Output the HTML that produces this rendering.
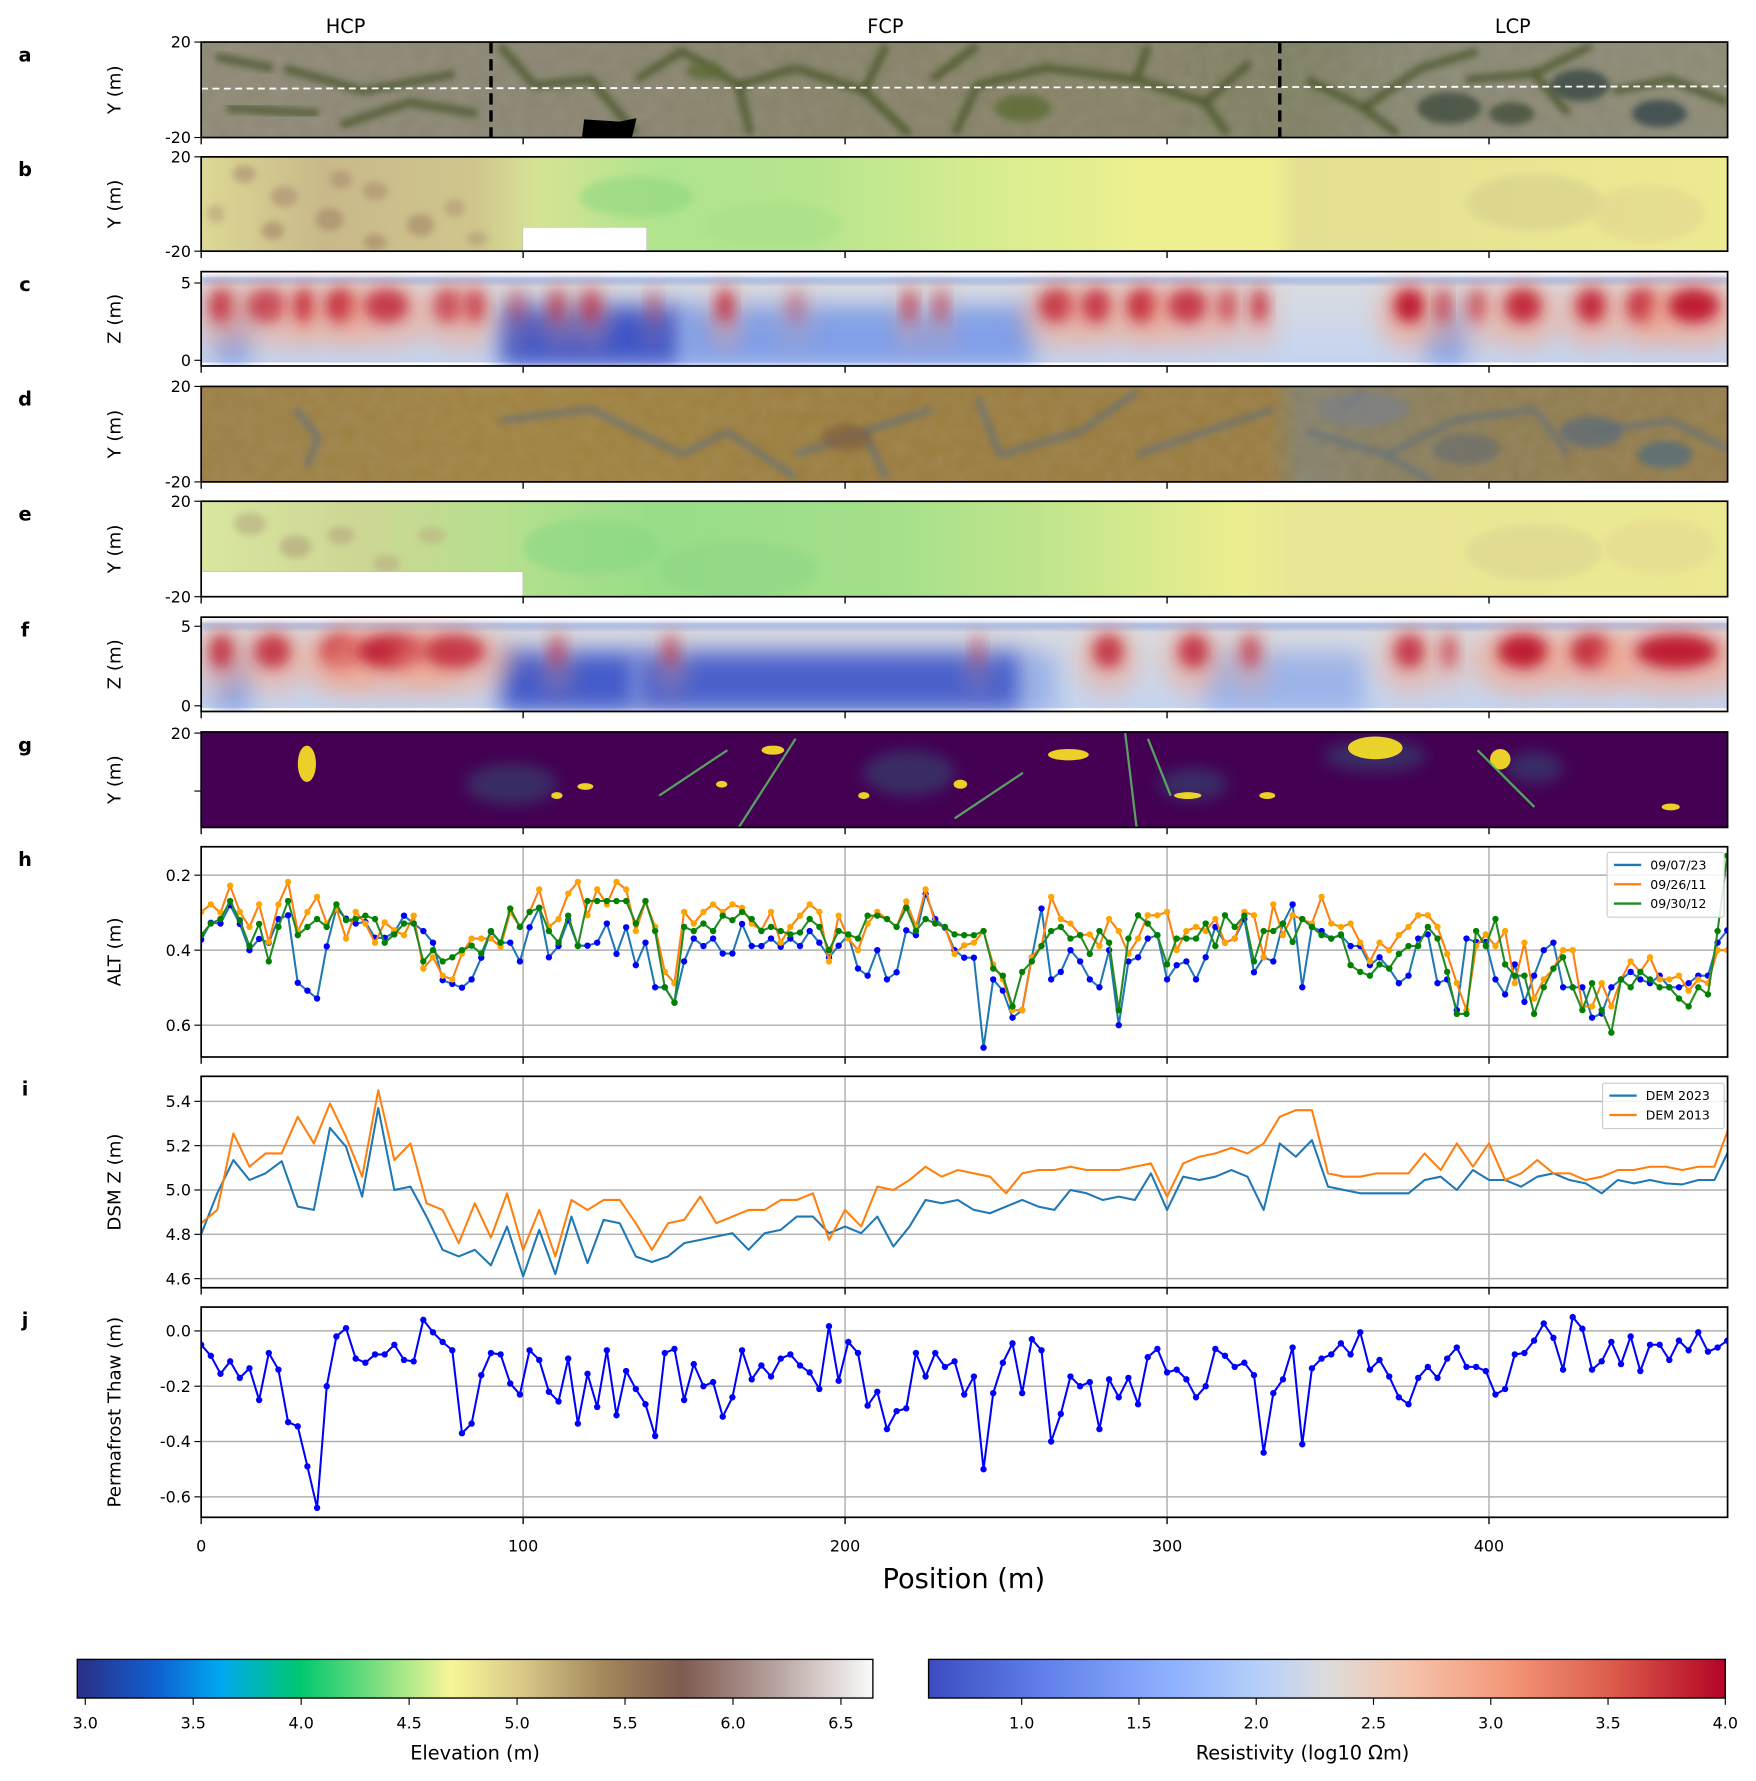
<!DOCTYPE html>
<html><head><meta charset="utf-8"><style>
html,body{margin:0;padding:0;background:#fff;}
svg{display:block;font-family:"DejaVu Sans","Liberation Sans",sans-serif;}
</style></head><body>
<svg id="fig" width="1756" height="1781" viewBox="0 0 1545 1567" preserveAspectRatio="none" xmlns="http://www.w3.org/2000/svg">
<defs>
<filter id="blur6" x="-50%" y="-50%" width="200%" height="200%"><feGaussianBlur stdDeviation="6"/></filter>
<filter id="blur3" x="-50%" y="-50%" width="200%" height="200%"><feGaussianBlur stdDeviation="3"/></filter>
<filter id="blur10" x="-50%" y="-50%" width="200%" height="200%"><feGaussianBlur stdDeviation="10"/></filter>
<filter id="tex" x="0" y="0" width="100%" height="100%"><feTurbulence type="fractalNoise" baseFrequency="0.08" numOctaves="2" seed="3"/><feColorMatrix type="matrix" values="0 0 0 0 0.5  0 0 0 0 0.5  0 0 0 0 0.45  0 0 0 0.5 0"/></filter>
<linearGradient id="gA" x1="0" x2="1"><stop offset="0" stop-color="#8f8876"/><stop offset="0.2" stop-color="#8a8572"/><stop offset="0.4" stop-color="#868268"/><stop offset="0.6" stop-color="#868266"/><stop offset="0.72" stop-color="#7f7f62"/><stop offset="0.8" stop-color="#8a8874"/><stop offset="1" stop-color="#8c8a74"/></linearGradient>
<linearGradient id="gB" x1="0" x2="1"><stop offset="0" stop-color="#ddd894"/><stop offset="0.08" stop-color="#c9b98a"/><stop offset="0.18" stop-color="#d0c68c"/><stop offset="0.22" stop-color="#d6e395"/><stop offset="0.3" stop-color="#b0e48e"/><stop offset="0.4" stop-color="#b6e58e"/><stop offset="0.5" stop-color="#d3ec90"/><stop offset="0.62" stop-color="#eef090"/><stop offset="0.7" stop-color="#f1ef90"/><stop offset="0.72" stop-color="#e4df92"/><stop offset="1" stop-color="#eeea92"/></linearGradient>
<linearGradient id="gD" x1="0" x2="1"><stop offset="0" stop-color="#9b7e44"/><stop offset="0.2" stop-color="#a1823e"/><stop offset="0.45" stop-color="#9b7c3c"/><stop offset="0.7" stop-color="#9a7b3e"/><stop offset="0.72" stop-color="#85806a"/><stop offset="0.85" stop-color="#8f7c50"/><stop offset="1" stop-color="#957c48"/></linearGradient>
<linearGradient id="gE" x1="0" x2="1"><stop offset="0" stop-color="#d8e7a0"/><stop offset="0.1" stop-color="#cfd694"/><stop offset="0.2" stop-color="#b5e08e"/><stop offset="0.3" stop-color="#98dd88"/><stop offset="0.45" stop-color="#a5e08a"/><stop offset="0.55" stop-color="#bfe58c"/><stop offset="0.62" stop-color="#d8ea8e"/><stop offset="0.68" stop-color="#ebee8e"/><stop offset="0.72" stop-color="#e8e596"/><stop offset="1" stop-color="#ece992"/></linearGradient>
<linearGradient id="gElev" x1="0" x2="1"><stop offset="0" stop-color="#2b2f85"/><stop offset="0.1" stop-color="#1060d0"/><stop offset="0.18" stop-color="#00a8f0"/><stop offset="0.28" stop-color="#00c870"/><stop offset="0.38" stop-color="#80e080"/><stop offset="0.47" stop-color="#f8f698"/><stop offset="0.56" stop-color="#d8c888"/><stop offset="0.66" stop-color="#a4885c"/><stop offset="0.76" stop-color="#7e5a50"/><stop offset="0.88" stop-color="#b8a4a0"/><stop offset="1" stop-color="#fbfbfb"/></linearGradient>
<linearGradient id="gRes" x1="0" x2="1"><stop offset="0" stop-color="#3b4cc0"/><stop offset="0.15" stop-color="#6282ea"/><stop offset="0.3" stop-color="#8db0fe"/><stop offset="0.42" stop-color="#b8d0f9"/><stop offset="0.5" stop-color="#dddcdc"/><stop offset="0.6" stop-color="#f5c4ac"/><stop offset="0.72" stop-color="#f49a7b"/><stop offset="0.85" stop-color="#de604d"/><stop offset="1" stop-color="#b40426"/></linearGradient>
<linearGradient id="gResBase" x1="0" x2="0" y1="0" y2="1"><stop offset="0" stop-color="#dcdcdf"/><stop offset="1" stop-color="#c4d4ef"/></linearGradient>
</defs>
</svg>
<script>
// ---------- data ----------
const xTickVals = [0, 100, 200, 300, 400];
const altDates = ["09/07/23", "09/26/11", "09/30/12"];
const altBlue = [0.372,0.327,0.329,0.28,0.33,0.40,0.37,0.38,0.317,0.307,0.487,0.508,0.529,0.39,0.289,0.316,0.329,0.325,0.367,0.367,0.353,0.308,0.329,0.349,0.38,0.48,0.49,0.5,0.478,0.42,0.351,0.38,0.38,0.43,0.339,0.287,0.419,0.389,0.32,0.388,0.388,0.38,0.329,0.41,0.339,0.44,0.38,0.499,0.499,0.54,0.43,0.369,0.389,0.369,0.409,0.409,0.33,0.389,0.389,0.369,0.391,0.369,0.389,0.349,0.38,0.419,0.388,0.36,0.449,0.468,0.40,0.478,0.459,0.347,0.36,0.25,0.317,0.34,0.40,0.42,
0.42,0.66,0.478,0.508,0.58,0.56,0.419,0.289,0.478,0.458,0.40,0.43,0.478,0.499,0.40,0.60,0.43,0.419,0.369,0.36,0.478,0.44,0.43,0.478,0.419,0.338,0.38,0.369,0.317,0.459,0.419,0.43,0.329,0.278,0.499,0.338,0.349,0.369,0.36,0.389,0.389,0.44,0.419,0.449,0.488,0.468,0.369,0.358,0.488,0.478,0.56,0.369,0.378,0.378,0.478,0.518,0.438,0.538,0.468,0.40,0.38,0.499,0.499,0.499,0.58,0.569,0.499,0.478,0.458,0.478,0.488,0.468,0.499,0.499,0.488,0.468,0.468,0.38,0.347];
const altOrange = [0.298,0.278,0.30,0.228,0.298,0.338,0.278,0.378,0.278,0.218,0.349,0.298,0.258,0.329,0.289,0.369,0.298,0.329,0.38,0.326,0.347,0.36,0.308,0.449,0.419,0.468,0.478,0.409,0.369,0.369,0.369,0.391,0.298,0.338,0.298,0.238,0.338,0.317,0.249,0.218,0.307,0.238,0.278,0.218,0.238,0.349,0.27,0.338,0.458,0.488,0.298,0.329,0.298,0.278,0.298,0.278,0.287,0.329,0.347,0.298,0.38,0.338,0.308,0.278,0.298,0.43,0.308,0.369,0.40,0.329,0.298,0.317,0.338,0.27,0.338,0.238,0.329,0.338,0.41,0.387,
0.38,0.349,0.438,0.478,0.56,0.56,0.419,0.389,0.258,0.317,0.329,0.36,0.358,0.389,0.317,0.349,0.41,0.369,0.307,0.307,0.298,0.40,0.349,0.338,0.349,0.317,0.38,0.369,0.298,0.307,0.419,0.278,0.36,0.307,0.317,0.329,0.258,0.329,0.338,0.329,0.38,0.43,0.38,0.40,0.36,0.338,0.307,0.307,0.338,0.41,0.488,0.56,0.389,0.358,0.389,0.349,0.488,0.38,0.529,0.478,0.449,0.40,0.40,0.55,0.55,0.488,0.55,0.478,0.43,0.458,0.419,0.478,0.478,0.468,0.508,0.478,0.488,0.40,0.40];
const altGreen = [0.36,0.329,0.317,0.269,0.32,0.389,0.33,0.43,0.338,0.269,0.36,0.338,0.317,0.338,0.278,0.32,0.317,0.308,0.317,0.38,0.358,0.329,0.329,0.43,0.40,0.43,0.419,0.40,0.388,0.409,0.349,0.38,0.289,0.338,0.298,0.287,0.349,0.38,0.308,0.389,0.269,0.269,0.269,0.269,0.269,0.329,0.269,0.349,0.499,0.54,0.338,0.349,0.329,0.349,0.308,0.32,0.298,0.317,0.349,0.338,0.349,0.358,0.353,0.317,0.338,0.40,0.349,0.358,0.369,0.308,0.308,0.317,0.338,0.287,0.349,0.317,0.329,0.338,0.358,0.36,
0.36,0.349,0.449,0.468,0.55,0.458,0.43,0.389,0.349,0.338,0.369,0.36,0.41,0.349,0.38,0.56,0.369,0.307,0.329,0.36,0.438,0.369,0.369,0.369,0.329,0.389,0.307,0.338,0.308,0.43,0.349,0.349,0.329,0.378,0.317,0.338,0.36,0.369,0.358,0.44,0.458,0.468,0.438,0.449,0.41,0.389,0.389,0.338,0.369,0.458,0.57,0.57,0.349,0.389,0.317,0.438,0.468,0.468,0.57,0.499,0.449,0.419,0.499,0.56,0.488,0.56,0.62,0.478,0.499,0.458,0.478,0.499,0.499,0.529,0.55,0.499,0.518,0.349,0.148];
const demNames = ["DEM 2023", "DEM 2013"];
const dem2023 = [4.80,4.985,5.135,5.045,5.075,5.13,4.925,4.91,5.28,5.195,4.97,5.37,5.0,5.015,4.88,4.73,4.70,4.73,4.66,4.835,4.61,4.82,4.62,4.88,4.67,4.865,4.85,4.70,4.675,4.70,4.76,4.775,4.79,4.805,4.73,4.805,4.82,4.88,4.88,4.805,4.835,4.805,4.88,4.745,4.835,4.955,4.94,4.955,4.91,4.895,4.925,4.955,4.925,4.91,5.0,4.985,4.955,4.97,4.955,5.075,4.91,5.06,5.045,5.06,5.09,5.06,4.91,5.21,5.15,5.225,5.015,5.0,4.985,4.985,4.985,4.985,5.045,5.06,5.0,5.09,5.045,5.045,5.015,5.06,5.075,5.045,5.03,4.985,5.045,5.03,5.045,5.03,5.025,5.045,5.045,5.195];
const dem2013 = [4.85,4.91,5.255,5.105,5.165,5.165,5.33,5.21,5.39,5.24,5.06,5.45,5.135,5.21,4.94,4.91,4.76,4.94,4.785,4.985,4.73,4.91,4.70,4.955,4.91,4.955,4.955,4.85,4.73,4.85,4.865,4.97,4.85,4.88,4.91,4.91,4.955,4.955,4.985,4.775,4.91,4.835,5.015,5.0,5.045,5.105,5.06,5.09,5.075,5.06,4.985,5.075,5.09,5.09,5.105,5.09,5.09,5.09,5.105,5.12,4.97,5.12,5.15,5.165,5.19,5.165,5.21,5.33,5.36,5.36,5.075,5.06,5.06,5.075,5.075,5.075,5.165,5.09,5.21,5.105,5.21,5.045,5.075,5.135,5.075,5.075,5.045,5.06,5.09,5.09,5.105,5.105,5.09,5.105,5.105,5.30];
const thaw = [-0.05,-0.09,-0.155,-0.11,-0.17,-0.135,-0.25,-0.08,-0.14,-0.33,-0.345,-0.49,-0.64,-0.2,-0.02,0.01,-0.1,-0.115,-0.085,-0.085,-0.05,-0.105,-0.11,0.04,-0.005,-0.04,-0.07,-0.37,-0.335,-0.16,-0.08,-0.085,-0.19,-0.23,-0.07,-0.105,-0.22,-0.255,-0.1,-0.335,-0.155,-0.275,-0.07,-0.305,-0.145,-0.21,-0.265,-0.38,-0.08,-0.065,-0.25,-0.12,-0.2,-0.185,-0.31,-0.24,-0.07,-0.175,-0.125,-0.165,-0.1,-0.085,-0.125,-0.15,-0.21,0.017,-0.18,-0.04,-0.08,-0.27,-0.22,-0.355,-0.29,-0.28,-0.08,-0.165,-0.08,-0.13,-0.11,-0.23,
-0.165,-0.5,-0.225,-0.115,-0.045,-0.225,-0.03,-0.07,-0.4,-0.3,-0.165,-0.2,-0.185,-0.355,-0.175,-0.24,-0.17,-0.265,-0.095,-0.065,-0.15,-0.14,-0.175,-0.24,-0.2,-0.065,-0.09,-0.13,-0.115,-0.16,-0.44,-0.225,-0.175,-0.06,-0.41,-0.135,-0.1,-0.085,-0.045,-0.085,-0.005,-0.14,-0.105,-0.165,-0.24,-0.265,-0.17,-0.13,-0.17,-0.1,-0.06,-0.13,-0.13,-0.145,-0.23,-0.21,-0.085,-0.08,-0.035,0.027,-0.025,-0.14,0.05,0.008,-0.14,-0.11,-0.04,-0.12,-0.02,-0.145,-0.05,-0.05,-0.105,-0.035,-0.07,-0.005,-0.075,-0.06,-0.035];
const altTicks = [0.2, 0.4, 0.6];
const demTicks = [4.6, 4.8, 5.0, 5.2, 5.4];
const thawTicks = [0.0, -0.2, -0.4, -0.6];
const elevTicks = [3.0, 3.5, 4.0, 4.5, 5.0, 5.5, 6.0, 6.5];
const resTicks = [1.0, 1.5, 2.0, 2.5, 3.0, 3.5, 4.0];

// ---------- helpers ----------
const NS = "http://www.w3.org/2000/svg";
const svg = document.getElementById("fig");
function mk(tag, attrs, parent) {
  const e = document.createElementNS(NS, tag);
  for (const k in attrs) e.setAttribute(k, attrs[k]);
  (parent || svg).appendChild(e);
  return e;
}
function txt(s, attrs, parent) { const t = mk("text", attrs, parent); t.textContent = s; return t; }
const X0 = 177, X1 = 1520, XMAX = 474.1;
function xs(m) { return X0 + (m / XMAX) * (X1 - X0); }
function lin(d0, d1, r0, r1) { return v => r0 + (v - d0) / (d1 - d0) * (r1 - r0); }

// ---------- header labels ----------
[["HCP", 304], ["FCP", 779], ["LCP", 1331]].forEach(([s, x]) => {
  const t = txt(s, { x: x, y: 29, "font-size": 17, "text-anchor": "middle" });
  
  
});

// ---------- panel frames ----------
const panels = [
  { k: "a", t: 37, b: 121, yl: "Y (m)" }, { k: "b", t: 138, b: 221, yl: "Y (m)" },
  { k: "c", t: 239, b: 322, yl: "Z (m)" }, { k: "d", t: 340, b: 424, yl: "Y (m)" },
  { k: "e", t: 441, b: 525, yl: "Y (m)" }, { k: "f", t: 543, b: 626, yl: "Z (m)" },
  { k: "g", t: 644, b: 728, yl: "Y (m)" }, { k: "h", t: 745, b: 930, yl: "ALT (m)" },
  { k: "i", t: 947, b: 1133, yl: "DSM Z (m)" }, { k: "j", t: 1150, b: 1335, yl: "Permafrost Thaw (m)" }
];
const groups = {};
panels.forEach(p => {
  const g = mk("g", {});
  
  
  groups[p.k] = g;
  const cp = mk("clipPath", { id: "clip" + p.k }, svg.querySelector("defs"));
  mk("rect", { x: X0, y: p.t, width: X1 - X0, height: p.b - p.t }, cp);
  const lab = txt(p.k, { x: 22, y: p.t + 17, "font-size": 17, "font-weight": "bold", "text-anchor": "middle" });
  
  
  const cy = (p.t + p.b) / 2;
  const yl = txt(p.yl, { x: 0, y: 0, "font-size": 16, "text-anchor": "middle", transform: `translate(106,${cy}) rotate(-90)` });
  
  
});

// ---------- image panels ----------
function imgLayer(k) { return mk("g", { "clip-path": `url(#clip${k})` }, groups[k]); }
// a: aerial photo
(function () {
  const p = panels[0], g = imgLayer("a");
  const bg = mk("rect", { x: X0, y: p.t, width: X1 - X0, height: p.b - p.t, fill: "url(#gA)" }, g);
  
  
  mk("rect", { x: X0, y: p.t, width: X1 - X0, height: p.b - p.t, filter: "url(#tex)", opacity: 0.35 }, g);
  const lines = [[440,40,470,75,520,70,560,118],[560,70,600,45,650,75,700,60],[650,75,660,118],[700,60,760,80,800,118],[760,80,780,40],[820,70,860,40],[840,118,860,75,920,60,1000,70],[1000,70,1010,40],[1000,70,1060,90,1080,118],[1060,90,1100,55],[1150,70,1200,95,1230,118],[1200,95,1250,60,1300,45],[1290,70,1350,65,1380,100],[1350,65,1400,40],[1420,80,1470,70,1520,90],[250,60,320,80,400,65],[200,95,280,100],[300,110,360,90,420,100],[190,50,240,60]];
  lines.forEach(l => mk("polyline", { points: l.join(","), fill: "none", stroke: "#465226", "stroke-width": 7, opacity: 0.75, filter: "url(#blur3)" }, g));
  [[1275,95,28,14,"#3a4a3a"],[1390,75,26,14,"#33453f"],[1460,100,24,12,"#2f3f4a"],[1330,100,20,10,"#3c4c38"],[900,95,25,12,"#5a6a30"],[620,62,16,8,"#5a6a30"]].forEach(e => mk("ellipse", { cx: e[0], cy: e[1], rx: e[2], ry: e[3], fill: e[4], opacity: 0.75, filter: "url(#blur3)" }, g));
  mk("polygon", { points: "514,105 545,107 560,104 556,121 512,121", fill: "#000" }, g);
  const tl = mk("line", { x1: X0, y1: 78, x2: X1, y2: 76, stroke: "#fff", "stroke-width": 1.6, "stroke-dasharray": "6,4" }, g);
  
  
  [432, 1126].forEach(x => {
    const d = mk("line", { x1: x, y1: p.t, x2: x, y2: p.b, stroke: "#000", "stroke-width": 3, "stroke-dasharray": "10,5" }, groups["a"]);
    
    
  });
})();
// b & e: elevation maps
function elevPanel(idx, grad, spots, whiteRect) {
  const p = panels[idx], g = imgLayer(p.k);
  const bg = mk("rect", { x: X0, y: p.t, width: X1 - X0, height: p.b - p.t, fill: grad }, g);
  
  
  spots.forEach(s => mk("ellipse", { cx: s[0], cy: p.t + s[1], rx: s[2], ry: s[3], fill: s[4], opacity: 0.6, filter: "url(#blur3)" }, g));
  const wr = mk("rect", { x: whiteRect[0], y: whiteRect[1], width: whiteRect[2], height: whiteRect[3], fill: "#fff", stroke: "#bbb", "stroke-width": 0.5 }, groups[p.k]);
  
  
}
const bSpots = [[215,15,10,8,"#a88c72"],[250,35,12,9,"#a88c72"],[290,55,12,10,"#a08468"],[330,30,11,8,"#a88c72"],[370,60,12,10,"#a08468"],[300,20,10,8,"#a88c72"],[240,65,10,8,"#a08468"],[400,45,9,8,"#b09878"],[330,75,10,7,"#a08468"],[420,72,9,6,"#b09878"],[190,50,8,8,"#b8a07c"],[560,35,50,18,"#90d880"],[680,60,60,20,"#a8e088"],[1350,40,60,25,"#d6d08c"],[1450,50,50,25,"#e2d690"]];
elevPanel(1, "url(#gB)", bSpots, [460, 200, 109, 21]);
const eSpots = [[220,20,14,10,"#b4a880"],[260,40,14,10,"#b0a27c"],[300,30,12,8,"#b4a880"],[340,55,12,8,"#b8ac82"],[380,30,12,8,"#bcb284"],[520,40,60,25,"#8ad884"],[650,60,70,25,"#8ed686"],[1350,45,60,25,"#dcd690"],[1460,40,50,25,"#e4da90"]];
elevPanel(4, "url(#gE)", eSpots, [177, 503, 283, 22]);
// d: second aerial
(function () {
  const p = panels[3], g = imgLayer("d");
  const bg = mk("rect", { x: X0, y: p.t, width: X1 - X0, height: p.b - p.t, fill: "url(#gD)" }, g);
  
  
  mk("rect", { x: X0, y: p.t, width: X1 - X0, height: p.b - p.t, filter: "url(#tex)", opacity: 0.35 }, g);
  const lines = [[260,360,280,385,270,410],[440,370,520,360,600,400],[600,400,640,380,700,420],[700,400,760,380,820,360],[760,380,780,420],[860,350,880,400,950,380],[950,380,1000,345],[1000,400,1060,380,1120,360],[1150,380,1220,400,1260,424],[1220,400,1280,370,1350,360],[1350,360,1380,400],[1400,380,1470,370,1520,395],[1180,360,1200,345]];
  lines.forEach(l => mk("polyline", { points: l.join(","), fill: "none", stroke: "#5f6f80", "stroke-width": 5, opacity: 0.75, filter: "url(#blur3)" }, g));
  [[1290,395,30,14,"#6a6e70"],[1400,380,28,14,"#5b6a7a"],[1465,400,24,12,"#4e6a80"],[745,385,22,12,"#806040"],[1200,360,40,15,"#7d8088"]].forEach(e => mk("ellipse", { cx: e[0], cy: e[1], rx: e[2], ry: e[3], fill: e[4], opacity: 0.7, filter: "url(#blur3)" }, g));
})();
// c & f: resistivity sections
function resPanel(idx, reds, blues) {
  const p = panels[idx], g = imgLayer(p.k);
  const bg = mk("rect", { x: X0, y: p.t + 5, width: X1 - X0, height: p.b - p.t - 8, fill: "url(#gResBase)" }, g);
  
  
  blues.forEach(b => mk("rect", { x: b[0], y: p.t + 30, width: b[1] - b[0], height: p.b - p.t - 30, fill: b[2] > 0.8 ? "#3d55c8" : "#7092e6", opacity: b[2], filter: "url(#blur10)" }, g));
  mk("rect", { x: X0, y: p.t + 5, width: X1 - X0, height: 5, fill: "#7f9ce6", opacity: 0.75, filter: "url(#blur3)" }, g);
  reds.forEach(r => {
    mk("ellipse", { cx: r[0], cy: p.t + 38, rx: r[1] * 1.8, ry: 30, fill: "#f2a288", opacity: r[2] * 0.65, filter: "url(#blur10)" }, g);
    mk("ellipse", { cx: r[0], cy: p.t + 30, rx: r[1] * 0.9, ry: 15, fill: "#bf1a30", opacity: r[2], filter: "url(#blur6)" }, g);
  });
}
resPanel(2,
  [[195,12,.8],[235,20,.7],[268,10,.9],[300,15,.9],[340,22,.8],[395,15,.7],[418,10,.7],[455,8,.4],[490,8,.6],[520,10,.6],[575,6,.4],[638,8,.8],[700,10,.3],[800,6,.7],[828,6,.6],[930,18,.8],[965,15,.8],[1005,15,.9],[1045,20,.8],[1080,10,.6],[1108,8,.8],[1240,15,1],[1270,6,.8],[1300,10,.6],[1340,18,.9],[1400,15,.9],[1445,15,.9],[1490,25,1]],
  [[190,220,.7],[440,600,1],[600,910,.8],[1255,1290,.7]]);
resPanel(5,
  [[195,12,.8],[240,18,.8],[300,20,.9],[345,35,.95],[400,30,.8],[490,8,.5],[590,8,.5],[860,6,.4],[975,15,.8],[1050,15,.8],[1100,10,.6],[1240,15,.8],[1275,8,.6],[1340,25,1],[1400,20,.9],[1475,40,1]],
  [[190,220,.7],[440,560,.95],[560,900,.9],[900,930,.5],[1060,1200,.5]]);
// g: classification map
(function () {
  const p = panels[6], g = imgLayer("g");
  const bg = mk("rect", { x: X0, y: p.t, width: X1 - X0, height: p.b - p.t, fill: "#440154" }, g);
  
  
  [[450,690,40,18],[800,680,40,20],[1050,690,30,14],[1210,665,45,14],[1350,675,25,14]].forEach(e => mk("ellipse", { cx: e[0], cy: e[1], rx: e[2], ry: e[3], fill: "#21918c", opacity: 0.3, filter: "url(#blur6)" }, g));
  [[270,672,8,16],[940,664,18,5],[1210,658,24,10],[1320,668,9,9],[680,660,10,4],[515,692,7,3],[635,690,5,3],[1045,700,12,3],[1470,710,8,3],[1115,700,7,3],[490,700,5,3],[760,700,5,3],[845,690,6,4]].forEach(e => mk("ellipse", { cx: e[0], cy: e[1], rx: e[2], ry: e[3], fill: "#fde725", opacity: 0.9 }, g));
  [[700,650,650,728],[990,645,1000,728],[1010,650,1030,700],[1300,660,1350,710],[840,720,900,680],[580,700,640,660]].forEach(l => mk("line", { x1: l[0], y1: l[1], x2: l[2], y2: l[3], stroke: "#5ec962", "stroke-width": 2, opacity: 0.8 }, g));
})();

// ---------- image panel y ticks ----------
function yTick(y, label, pk) {
  mk("line", { x1: X0 - 6, y1: y, x2: X0, y2: y, stroke: "#000", "stroke-width": 1 }, groups[pk]);
  if (label !== "") {
    const t = txt(label, { x: X0 - 9, y: y + 5, "font-size": 14, "text-anchor": "end" }, groups[pk]);
    
    
  }
}
["a", "b", "d", "e"].forEach(k => { const p = panels.find(q => q.k === k); yTick(p.t, "20", k); yTick(p.b, "-20", k); });
yTick(249, "5", "c"); yTick(317, "0", "c");
yTick(551, "5", "f"); yTick(621, "0", "f");
yTick(645, "20", "g"); yTick(696, "", "g");

// ---------- line charts ----------
const hy = lin(0.2, 0.6, 770, 902);
const iy = lin(4.6, 5.4, 1125, 969);
const jy = lin(0.0, -0.6, 1171, 1317);
function grid(pk, ticks, yf) {
  const p = panels.find(q => q.k === pk), g = groups[pk];
  ticks.forEach(v => {
    mk("line", { x1: X0, y1: yf(v), x2: X1, y2: yf(v), stroke: "#b0b0b0", "stroke-width": 1.3 }, g);
    yTick(yf(v), v.toFixed(1), pk);
  });
  xTickVals.slice(1).forEach(v => mk("line", { x1: xs(v), y1: p.t, x2: xs(v), y2: p.b, stroke: "#b0b0b0", "stroke-width": 1.3 }, g));
}
grid("h", altTicks, hy);
grid("i", demTicks, iy);
grid("j", thawTicks, jy);

function series(pk, vals, step, yf, lineCol, markCol, name, markers) {
  const g = mk("g", { "clip-path": `url(#clip${pk})` }, groups[pk]);
  
  
  const pts = vals.map((v, i) => [xs(i * step), yf(v)]);
  mk("polyline", { points: pts.map(q => q.join(",")).join(" "), fill: "none", stroke: lineCol, "stroke-width": 1.8, "stroke-linejoin": "round" }, g);
  if (markers) pts.forEach(q => {
    const c = mk("circle", { cx: q[0], cy: q[1], r: 2.8, fill: markCol }, g);
    
    
  });
}
series("h", altBlue, 3, hy, "#1f77b4", "#0000ff", "alt-series-090723", true);
series("h", altOrange, 3, hy, "#ff7f0e", "#ffa500", "alt-series-092611", true);
series("h", altGreen, 3, hy, "#228b22", "#008000", "alt-series-093012", true);
series("i", dem2023, 5, iy, "#1f77b4", "", "dem-2023-line", false);
series("i", dem2013, 5, iy, "#ff7f0e", "", "dem-2013-line", false);
series("j", thaw, 3, jy, "#0000ff", "#0000ff", "thaw-series", true);

// legends
function legend(pk, x, y, w, items) {
  const g = mk("g", {}, groups[pk]);
  
  
  mk("rect", { x: x, y: y, width: w, height: items.length * 17 + 6, fill: "#fff", "fill-opacity": 0.85, stroke: "#ccc", rx: 2 }, g);
  items.forEach((it, i) => {
    const e = mk("g", {}, g);
    
    
    const yy = y + 11 + i * 17;
    mk("line", { x1: x + 6, y1: yy, x2: x + 30, y2: yy, stroke: it[1], "stroke-width": 2 }, e);
    txt(it[0], { x: x + 38, y: yy + 4, "font-size": 11 }, e);
  });
}
legend("h", 1414, 750, 103, [[altDates[0], "#1f77b4"], [altDates[1], "#ff7f0e"], [altDates[2], "#228b22"]]);
legend("i", 1410, 953, 107, [[demNames[0], "#1f77b4"], [demNames[1], "#ff7f0e"]]);

// frames + x ticks
panels.forEach(p => {
  const f = mk("rect", { x: X0, y: p.t, width: X1 - X0, height: p.b - p.t, fill: "none", stroke: "#000", "stroke-width": 1.5 }, groups[p.k]);
  
  
  xTickVals.forEach(v => mk("line", { x1: xs(v), y1: p.b, x2: xs(v), y2: p.b + 6, stroke: "#000", "stroke-width": 1.2 }, groups[p.k]));
});
xTickVals.forEach(v => {
  const t = txt(String(v), { x: xs(v), y: 1365, "font-size": 14, "text-anchor": "middle" });
  
  
});
const xt = txt("Position (m)", { x: 848, y: 1397, "font-size": 24, "text-anchor": "middle" });



// ---------- colorbars ----------
function colorbar(name, x0, x1, vmin, vmax, fill, ticks, title, tx) {
  const g = mk("g", {});
  
  
  mk("rect", { x: x0, y: 1460, width: x1 - x0, height: 34, fill: fill, stroke: "#000", "stroke-width": 1.2 }, g);
  const sx = lin(vmin, vmax, x0, x1);
  ticks.forEach(v => {
    mk("line", { x1: sx(v), y1: 1494, x2: sx(v), y2: 1500, stroke: "#000" }, g);
    const t = txt(v.toFixed(1), { x: sx(v), y: 1521, "font-size": 14, "text-anchor": "middle" }, g);
    
    
  });
  const tt = txt(title, { x: tx, y: 1548, "font-size": 17, "text-anchor": "middle" }, g);
  
  
}
colorbar("elevation-colorbar", 68, 768, 2.963, 6.648, "url(#gElev)", elevTicks, "Elevation (m)", 418);
colorbar("resistivity-colorbar", 817, 1518, 0.603, 4.0, "url(#gRes)", resTicks, "Resistivity (log10 Ωm)", 1146);
</script>
</body></html>
